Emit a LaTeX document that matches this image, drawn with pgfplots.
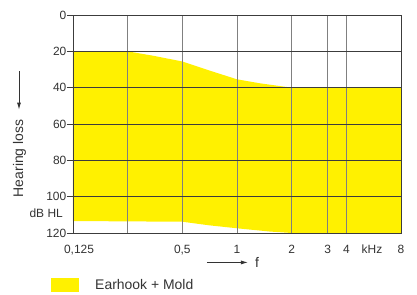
\documentclass[border=0pt]{standalone}
\usepackage{fontspec}
\setmainfont{Liberation Sans}
\usepackage{pgfplots}
\pgfplotsset{compat=1.18}
\usetikzlibrary{arrows.meta}
\definecolor{fillyel}{RGB}{255,241,0}
\definecolor{txt}{RGB}{51,51,51}
\definecolor{gridv}{RGB}{128,128,128}
\definecolor{gridh}{RGB}{60,60,60}
\begin{document}
\begin{tikzpicture}
\useasboundingbox (-73bp,-62bp) rectangle (344bp,233bp);
\begin{axis}[
  at={(0,0)}, anchor=south west,
  scale only axis, width=328bp, height=218bp,
  xmin=0, xmax=6, ymin=0, ymax=120, y dir=reverse,
  axis on top, clip=false,
  xtick={0,1,2,3,4,4.66,5,6},
  xticklabels={{\hspace*{12bp}0,125},,{0,5},1,2,3,4,8},
  extra x ticks={5.47}, extra x tick labels={kHz},
  extra x tick style={grid=none},
  ytick={0,20,40,60,80,100,120},
  xmajorgrids, ymajorgrids,
  x grid style={gridv, line width=0.9bp},
  y grid style={gridh, line width=0.9bp},
  axis line style={gridh, line width=0.9bp},
  xtick style={draw=none},
  ytick style={gridh, line width=0.8bp},
  tick align=outside, ytick pos=left, xtick pos=bottom,
  major tick length=6bp,
  ticklabel style={font=\fontsize{12}{14}\selectfont, text=txt},
  yticklabel style={inner sep=0.5bp},
  xticklabel style={yshift=-2bp, text height=9bp, text depth=2bp},
  /pgf/number format/assume math mode=true,
  legend style={at={(axis description cs:-0.067,-0.2385)}, anchor=west,
    draw=none, fill=none, inner sep=0pt, font=\fontsize{14}{16}\selectfont, text=txt},
  legend image code/.code={\fill[fillyel] (0bp,-7bp) rectangle (28bp,7bp); \path (42bp,0bp);},
]
\addplot[fill=fillyel, draw=none] coordinates {
  (0,20) (1,20) (1.5,22.6) (2,25.6) (2.5,30.6) (3,35.4) (3.42,37.6) (4,40) (6,40)
  (6,120) (4,120) (3.6,119.2) (3,117.4) (2.5,115.8) (2,113.8) (0,113.4)};
\addlegendentry{Earhook + Mold}
\node[anchor=east, inner sep=0pt, font=\fontsize{12}{14}\selectfont, text=txt, xshift=-10bp] at (axis cs:0,109.3) {dB HL};
\node[rotate=90, font=\fontsize{14}{16}\selectfont, text=txt] at (axis description cs:-0.163,0.342) {Hearing loss};
\draw[-{Latex[length=7bp,width=4bp]}, txt, line width=0.8bp] (axis description cs:-0.1646,0.741) -- (axis description cs:-0.1646,0.566);
\draw[-{Latex[length=7bp,width=4bp]}, txt, line width=0.8bp] (axis description cs:0.4085,-0.135) -- (axis description cs:0.5335,-0.135);
\node[font=\fontsize{14}{16}\selectfont, text=txt] at (axis description cs:0.561,-0.135) {f};
\end{axis}
\end{tikzpicture}
\end{document}
